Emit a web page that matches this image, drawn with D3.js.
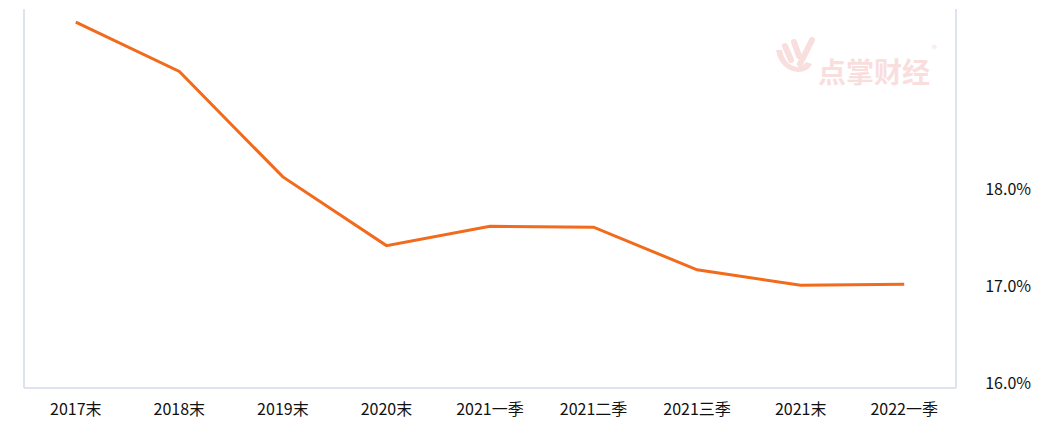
<!DOCTYPE html>
<html><head><meta charset="utf-8">
<script src="https://cdn.jsdelivr.net/npm/d3@7/dist/d3.min.js"></script>
<style>body{margin:0;background:#fff}svg{display:block}</style>
</head><body>
<svg id="c" width="1048" height="435"></svg>
<script>
const categories = ["2017末","2018末","2019末","2020末","2021一季","2021二季","2021三季","2021末","2022一季"];
const values = [19.73, 19.22, 18.13, 17.42, 17.62, 17.61, 17.17, 17.01, 17.02];
const yTicks = [16, 17, 18];

const svg = d3.select("#c");
const L = 24, R = 956, T = 9, B = 388;
const font = "'Microsoft YaHei','Noto Sans CJK SC','DejaVu Sans',sans-serif";

const x = d3.scaleBand().domain(categories).range([L, R]);
const y = d3.scaleLinear().domain([16, 18]).range([383, 189.5]);

// watermark
const wm = svg.append("g").attr("fill", "#f9dede");
wm.append("text").attr("x", 818).attr("y", 83).attr("font-family", font).attr("font-size", 28).attr("font-weight", "bold").text("点掌财经");
wm.append("text").attr("x", 932).attr("y", 53).attr("font-family", font).attr("font-size", 10).text("®");
wm.append("path").attr("d", "M776,50 q4,20 22,22 q10,0 14,-8 l-6,-2 q-4,6 -9,5 q-12,-2 -15,-17z");
wm.append("path").attr("d", "M785,46 l6,14 M794,42 l5,14 M812,40 l-12,24").attr("stroke", "#f9dede").attr("stroke-width", 6).attr("stroke-linecap", "round").attr("fill", "none");

// frame
const fc = "#d3daea";
svg.append("line").attr("x1", L).attr("x2", L).attr("y1", T).attr("y2", B).attr("stroke", fc).attr("stroke-width", 1.5);
svg.append("line").attr("x1", R).attr("x2", R).attr("y1", T).attr("y2", B).attr("stroke", fc).attr("stroke-width", 1.5);
svg.append("line").attr("x1", L).attr("x2", R).attr("y1", B).attr("y2", B).attr("stroke", fc).attr("stroke-width", 1.5);

// x axis labels
const xa = svg.append("g").attr("transform", `translate(0,${B})`)
  .call(d3.axisBottom(x).tickSize(0).tickPadding(16));
xa.select(".domain").remove();
xa.selectAll("text").attr("font-family", font).attr("font-size", 16).attr("fill", "#111");

// y axis labels
const ya = svg.append("g").attr("transform", `translate(1031,0)`)
  .call(d3.axisLeft(y).tickValues(yTicks).tickSize(0).tickPadding(0).tickFormat(d => d.toFixed(1) + "%"));
ya.select(".domain").remove();
ya.selectAll("text").attr("font-family", font).attr("font-size", 16).attr("fill", "#111");

// line
const line = d3.line().x((d, i) => x(categories[i]) + x.bandwidth() / 2).y(d => y(d));
svg.append("path").datum(values).attr("d", line).attr("fill", "none")
  .attr("stroke", "#f26a1b").attr("stroke-width", 3).attr("stroke-linejoin", "miter");
</script>
</body></html>
